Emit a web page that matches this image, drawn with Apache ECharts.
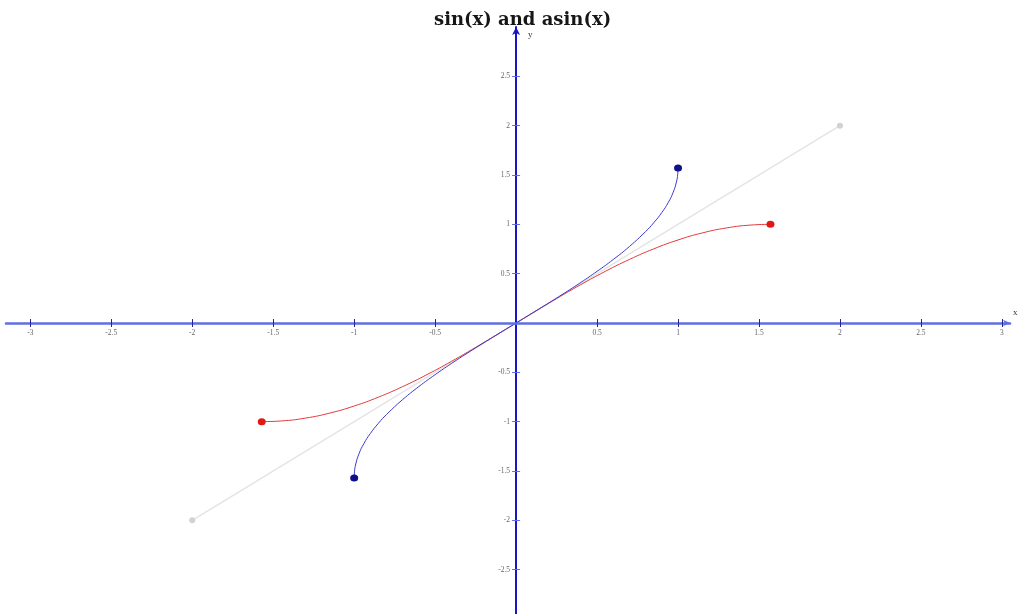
<!DOCTYPE html>
<html>
<head>
<meta charset="utf-8">
<script src="https://cdn.jsdelivr.net/npm/echarts@6/dist/echarts.min.js"></script>
<style>
  html, body { margin: 0; padding: 0; background: #fff; }
  #chart { width: 1019px; height: 614px; }
</style>
</head>
<body>
<div id="chart"></div>
<script>
// Tick positions shown on each axis
const xTicks = [-3, -2.5, -2, -1.5, -1, -0.5, 0.5, 1, 1.5, 2, 2.5, 3];
const yTicks = [-2.5, -2, -1.5, -1, -0.5, 0.5, 1, 1.5, 2, 2.5];

// y = sin(x) on [-pi/2, pi/2]
const sinX = [-1.5708, -1.45, -1.3, -1.15, -1.0, -0.85, -0.7, -0.55, -0.4, -0.25, -0.1, 0,
              0.1, 0.25, 0.4, 0.55, 0.7, 0.85, 1.0, 1.15, 1.3, 1.45, 1.5708];
const sinY = [-1, -0.9927, -0.9636, -0.9128, -0.8415, -0.7513, -0.6442, -0.5227, -0.3894, -0.2474, -0.0998, 0,
              0.0998, 0.2474, 0.3894, 0.5227, 0.6442, 0.7513, 0.8415, 0.9128, 0.9636, 0.9927, 1];

// y = asin(x) on [-1, 1]
const asinX = [-1, -0.998, -0.99, -0.97, -0.94, -0.9, -0.85, -0.8, -0.7, -0.6, -0.5, -0.4, -0.3, -0.2, -0.1, 0,
               0.1, 0.2, 0.3, 0.4, 0.5, 0.6, 0.7, 0.8, 0.85, 0.9, 0.94, 0.97, 0.99, 0.998, 1];
const asinY = [-1.5708, -1.5075, -1.4293, -1.3252, -1.2226, -1.1198, -1.0160, -0.9273, -0.7754, -0.6435, -0.5236, -0.4115, -0.3047, -0.2014, -0.1002, 0,
               0.1002, 0.2014, 0.3047, 0.4115, 0.5236, 0.6435, 0.7754, 0.9273, 1.0160, 1.1198, 1.2226, 1.3252, 1.4293, 1.5075, 1.5708];

// y = x reference line
const idX = [-2, 2];
const idY = [-2, 2];

const zip = (xs, ys) => xs.map((x, i) => [x, ys[i]]);
const ends = (xs, ys) => [[xs[0], ys[0]], [xs[xs.length - 1], ys[ys.length - 1]]];

// Plot area: x in [-3.15, 3.05], y in [-3, 3]
const G = { left: 6, width: 1004, top: 27, height: 592 };
const X_MIN = -3.15, X_MAX = 3.05, Y_MIN = -3, Y_MAX = 3;
// shift each axis from the grid edge onto the origin
const yAxisOffset = -G.width * (0 - X_MIN) / (X_MAX - X_MIN);
const xAxisOffset = -G.height * (0 - Y_MIN) / (Y_MAX - Y_MIN);

const tickFont = { fontFamily: 'Liberation Serif', fontSize: 7.5, color: '#666' };
const xTickStyle = { color: '#26268a', width: 1 };
const yTickStyle = { color: '#6070e0', width: 1 };

const chart = echarts.init(document.getElementById('chart'));
chart.setOption({
  animation: false,
  title: {
    text: 'sin(x) and asin(x)',
    left: 429,
    top: 6,
    textStyle: { fontFamily: 'DejaVu Serif', fontWeight: 'bold', fontSize: 18, color: '#161616' }
  },
  grid: { ...G, outerBoundsMode: 'none', containLabel: false },
  xAxis: [
    {
      type: 'value',
      min: X_MIN,
      max: X_MAX,
      position: 'bottom',
      offset: xAxisOffset,
      name: 'x',
      nameGap: 3,
      nameTextStyle: { fontFamily: 'Liberation Serif', fontSize: 9, color: '#333', verticalAlign: 'bottom', padding: [0, 0, 6, 0] },
      splitLine: { show: false },
      axisLine: {
        onZero: false,
        symbol: ['none', 'arrow'],
        symbolSize: [5, 7],
        lineStyle: { color: '#5f6fe4', width: 2.5 }
      },
      axisTick: { customValues: xTicks, length: 4, lineStyle: xTickStyle },
      axisLabel: { customValues: xTicks, margin: 6, ...tickFont },
      z: 5
    },
    {
      // upper half of the crossing tick marks
      type: 'value',
      min: X_MIN,
      max: X_MAX,
      position: 'bottom',
      offset: xAxisOffset,
      splitLine: { show: false },
      axisLine: { show: false, onZero: false },
      axisTick: { customValues: xTicks, inside: true, length: 4, lineStyle: xTickStyle },
      axisLabel: { show: false },
      z: 5
    }
  ],
  yAxis: [
    {
      type: 'value',
      min: Y_MIN,
      max: Y_MAX,
      position: 'left',
      offset: yAxisOffset,
      name: 'y',
      nameGap: 2,
      nameLocation: 'end',
      nameTextStyle: { fontFamily: 'Liberation Serif', fontSize: 9, color: '#333', align: 'left', padding: [0, 0, -14, 12] },
      splitLine: { show: false },
      axisLine: {
        onZero: false,
        symbol: ['none', 'arrow'],
        symbolSize: [6, 8],
        lineStyle: { color: '#1616c8', width: 2 }
      },
      axisTick: { customValues: yTicks, length: 4, lineStyle: yTickStyle },
      axisLabel: { customValues: yTicks, margin: 6, ...tickFont },
      z: 5
    },
    {
      // right half of the crossing tick marks
      type: 'value',
      min: Y_MIN,
      max: Y_MAX,
      position: 'left',
      offset: yAxisOffset,
      splitLine: { show: false },
      axisLine: { show: false, onZero: false },
      axisTick: { customValues: yTicks, inside: true, length: 4, lineStyle: yTickStyle },
      axisLabel: { show: false },
      z: 5
    }
  ],
  series: [
    {
      name: 'y = x',
      type: 'line',
      data: zip(idX, idY),
      showSymbol: false,
      lineStyle: { color: '#e4e4e4', width: 1.5 },
      z: 1
    },
    {
      type: 'scatter',
      data: ends(idX, idY),
      symbolSize: 6,
      itemStyle: { color: '#d2d2d2', opacity: 1 },
      z: 1
    },
    {
      name: 'sin(x)',
      type: 'line',
      data: zip(sinX, sinY),
      smooth: true,
      showSymbol: false,
      lineStyle: { color: '#e23a3a', width: 1 },
      z: 3
    },
    {
      type: 'scatter',
      data: ends(sinX, sinY),
      symbolSize: [8, 7],
      itemStyle: { color: '#e01818', opacity: 1 },
      z: 4
    },
    {
      name: 'asin(x)',
      type: 'line',
      data: zip(asinX, asinY),
      smooth: true,
      showSymbol: false,
      lineStyle: { color: '#3a3ad0', width: 1 },
      z: 3
    },
    {
      type: 'scatter',
      data: ends(asinX, asinY),
      symbolSize: [8, 7],
      itemStyle: { color: '#10108a', opacity: 1 },
      z: 4
    }
  ]
});
</script>
</body>
</html>
